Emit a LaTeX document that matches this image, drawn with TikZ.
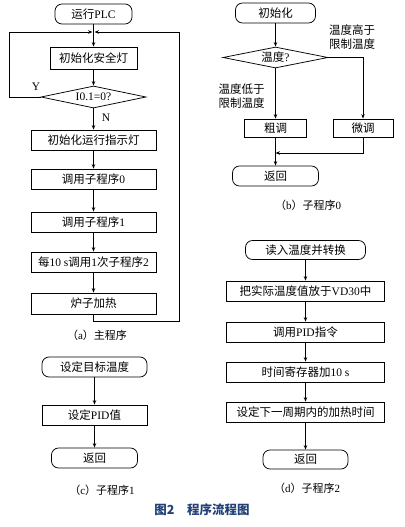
\documentclass[tikz,border=0pt]{standalone}
\usepackage{fontspec}
\setmainfont{Liberation Serif}
\newfontfamily\cjk{Noto Sans CJK SC}
\usetikzlibrary{arrows.meta,shapes.geometric}
\newcommand\zh[1]{{\cjk #1}}
\definecolor{titleblue}{RGB}{35,65,120}
\begin{document}
\begin{tikzpicture}[x=1pt,y=-1pt,
  font=\fontsize{11.5}{14}\selectfont,
  box/.style={draw, line width=0.75pt, inner sep=0pt, minimum height=20pt},
  term/.style={box, rounded corners=7pt},
  dec/.style={draw, diamond, line width=0.75pt, inner sep=0pt},
  flow/.style={line width=0.75pt, -{Stealth[length=4.5pt,width=3.5pt]}},
  capt/.style={font=\fontsize{11}{13}\selectfont},
  lbl/.style={inner sep=0pt, align=left}]
\useasboundingbox (0,0) rectangle (404,527);

% ---------- (a) main program ----------
\node[term, minimum width=77pt] (plc) at (93.5,14) {\zh{运行}PLC};
\node[box, minimum width=87pt, minimum height=22pt] (safe) at (93.5,58) {\zh{初始化安全灯}};
\node[dec, shape aspect=4.8, minimum width=105pt, minimum height=22pt] (d1) at (93.5,97) {I0.1=0?};
\node[box, minimum width=125pt] (init) at (93.5,140) {\zh{初始化运行指示灯}};
\node[box, minimum width=125pt] (sub0) at (93.5,179) {\zh{调用子程序}0};
\node[box, minimum width=125pt] (sub1) at (93.5,222) {\zh{调用子程序}1};
\node[box, minimum width=125pt] (sub2) at (93.5,262) {\zh{每}10 s\zh{调用}1\zh{次子程序}2};
\node[box, minimum width=125pt, minimum height=21pt] (heat) at (93.5,303.5) {\zh{炉子加热}};
\node[capt] (capa) at (97,335) {\zh{（}a\zh{）主程序}};
\node[lbl] (ylab) at (36,87) {Y};
\node[lbl] (nlab) at (106,118) {N};

\coordinate (m) at (93.5,32);
\coordinate (lx) at (9,32);
\coordinate (rx) at (179,321);
\draw[flow] (plc) -- (safe);
\draw[flow] (safe) -- (d1);
\draw[flow] (d1) -- (init);
\draw[flow] (init) -- (sub0);
\draw[flow] (sub0) -- (sub1);
\draw[flow] (sub1) -- (sub2);
\draw[flow] (sub2) -- (heat);
\draw[flow, shorten >=1pt] (d1.west) -| (lx) -- (m);
\draw[flow, shorten >=1pt] (heat.south) |- (rx) |- (m);

% ---------- (b) subprogram 0 ----------
\node[term, minimum width=80pt] (i0) at (275.5,13) {\zh{初始化}};
\node[dec, shape aspect=5, minimum width=105pt, minimum height=21pt] (d0) at (275.5,57.5) {\zh{温度}?};
\node[lbl] (hi) at (352,37) {\zh{温度高于}\\\zh{限制温度}};
\node[lbl] (lo) at (241.5,96) {\zh{温度低于}\\\zh{限制温度}};
\node[box, minimum width=62pt, minimum height=18pt] (coarse) at (275.5,128) {\zh{粗调}};
\node[box, minimum width=60pt, minimum height=18pt] (fine) at (363,128) {\zh{微调}};
\node[term, minimum width=86pt] (r0) at (275.5,176) {\zh{返回}};
\node[capt] (capb) at (308,205) {\zh{（}b\zh{）子程序}0};
\coordinate (j0) at (275.5,153);
\draw[flow] (i0) -- (d0);
\draw[flow] (d0) -- (coarse);
\draw[flow] (d0.east) -| (fine.north);
\draw[flow] (coarse) -- (r0);
\draw[flow] (fine.south) |- (j0);

% ---------- (c) subprogram 1 ----------
\node[term, minimum width=105pt] (goal) at (94.5,367) {\zh{设定目标温度}};
\node[box, minimum width=105pt] (pid) at (94.5,415) {\zh{设定}PID\zh{值}};
\node[term, minimum width=86pt] (r1) at (94.5,458) {\zh{返回}};
\node[capt] (capc) at (102,490) {\zh{（}c\zh{）子程序}1};
\draw[flow] (goal) -- (pid);
\draw[flow] (pid) -- (r1);

% ---------- (d) subprogram 2 ----------
\node[term, minimum width=120pt, minimum height=19pt] (rd) at (305.5,250) {\zh{读入温度并转换}};
\node[box, minimum width=158pt] (vd) at (305.5,291) {\zh{把实际温度值放于}VD30\zh{中}};
\node[box, minimum width=158pt] (pidd) at (305.5,332) {\zh{调用}PID\zh{指令}};
\node[box, minimum width=158pt] (tim) at (305.5,372) {\zh{时间寄存器加}10 s};
\node[box, minimum width=158pt] (nxt) at (305.5,412) {\zh{设定下一周期内的加热时间}};
\node[term, minimum width=85pt, minimum height=19pt] (r2) at (305.5,459.5) {\zh{返回}};
\node[capt] (capd) at (307,488) {\zh{（}d\zh{）子程序}2};
\draw[flow] (rd) -- (vd);
\draw[flow] (vd) -- (pidd);
\draw[flow] (pidd) -- (tim);
\draw[flow] (tim) -- (nxt);
\draw[flow] (nxt) -- (r2);

% ---------- title ----------
\node[text=titleblue, font=\fontsize{12.5}{14}\selectfont] (title) at (202,510)
  {\cjk\bfseries 图2\hspace{1em}程序流程图};
\end{tikzpicture}
\end{document}
